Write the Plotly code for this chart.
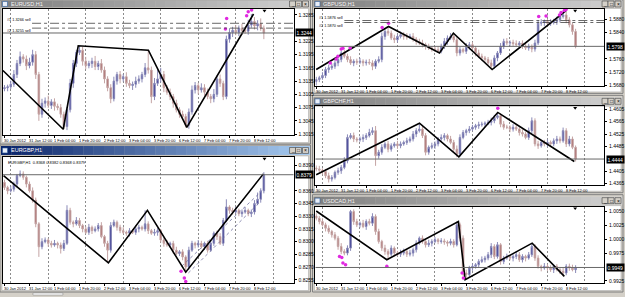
import plotly.graph_objects as go

W, H = 625, 297

# ---------------- data ----------------
time_ticks = [0, 16, 32, 48, 64, 80, 96, 112, 128, 144, 160]
time_labels = ["30 Jan 2012", "31 Jan 12:00", "1 Feb 04:00", "1 Feb 20:00", "2 Feb 12:00",
               "3 Feb 04:00", "3 Feb 20:00", "6 Feb 12:00", "7 Feb 04:00", "7 Feb 20:00", "8 Feb 12:00"]
day_starts = [4, 28, 52, 76, 100, 124, 148, 172]
hours_per_bar = 2

# EURUSD, pips above 1.3000
eurusd_open0 = 118
eurusd_close = [120,122,128,150,175,190,185,170,178,195, 150,60,85,90,80,88,78,75,60,32,
                70,130,175,200,205,180,170,175,180,168, 175,160,140,120,95,135,150,140,145,130,
                125,128,135,140,150,165,160,100,130,140, 150,120,110,100,85,70,60,55,35,65,
                115,125,115,120,110,100,95,105,140,130, 100,230,245,250,245,255,250,248,262,270,
                260,265,255,244]
eurusd_upper = [6,5,8,10,8,12,6,8,10,11, 8,6,10,8,12,6,8,6,8,6, 6,10,8,6,10,8,10,6,8,12,
                6,10,8,6,8,10,6,8,6,10, 8,6,10,8,6,11,40,8,12,20, 15,8,6,8,6,8,6,8,6,8,
                10,8,6,10,8,8,6,12,8,10, 6,8,10,8,12,6,10,8,12,17, 10,8,12,6]
eurusd_lower = [6,8,5,6,8,6,8,10,6,8, 10,15,8,10,6,8,10,6,8,6, 8,6,10,8,6,10,8,6,10,8,
                8,6,10,8,10,6,8,10,6,8, 6,10,8,6,8,6,8,15,8,6, 8,10,6,8,10,6,8,6,5,8,
                6,8,10,6,8,6,10,8,6,8, 8,6,8,10,6,8,10,6,8,6, 8,10,6,14]
eurusd_zz_t = [-1, 37.6, 47.2, 92.1, 116.7, 159.4]
eurusd_zz_p = [159, 26, 215, 205, 30, 287]
eurusd_dot_t = [142.2, 141.4, 155.0, 156.0, 158.2]
eurusd_dot_p = [277, 253, 283, 292, 296]
eurusd_levels = [266, 255]
eurusd_level_text = ["#1 1.3266 sell", "#2 1.3255 sell"]
eurusd_yticks = [1.3015, 1.3045, 1.3075, 1.3105, 1.3135, 1.3165, 1.3195, 1.3225, 1.3285]

# GBPUSD, pips above 1.5600
gbpusd_open0 = 92
gbpusd_close = [98,103,110,128,133,138,148,158,178,168, 158,148,153,150,153,148,150,148,138,153,
                158,228,243,238,223,218,228,233,228,226, 228,220,213,208,203,198,193,190,188,183,
                198,213,223,228,218,178,188,183,198,203, 193,178,168,163,158,148,138,163,178,198,
                213,208,210,206,203,208,198,193,198,190, 208,268,270,273,268,270,273,278,288,293,
                278,263,243,198]
gbpusd_upper = [8,6,10,8,10,8,12,10,8,10, 8,10,6,8,10,6,8,10,8,6, 10,12,10,15,8,10,6,10,8,10,
                8,10,6,8,10,6,8,6,8,10, 8,10,8,10,8,10,8,6,10,8, 8,6,10,8,6,8,10,8,6,10,
                8,10,6,8,10,6,8,10,8,6, 10,8,10,6,8,10,8,10,8,13, 10,8,6,8]
gbpusd_lower = [12,8,6,8,10,6,8,10,8,6, 8,6,10,8,6,10,8,6,12,8, 6,8,10,8,6,10,8,6,10,8,
                6,8,10,6,8,10,6,8,6,5, 6,8,10,6,8,10,8,6,8,10, 8,10,6,8,10,6,10,8,10,6,
                8,6,10,8,6,10,8,6,8,10, 8,6,8,10,6,8,6,10,8,6, 10,8,10,6]
gbpusd_zz_t = [0, 46.3, 78.9, 87.8, 112.6, 159.9]
gbpusd_zz_p = [128, 258, 178, 238, 128, 306]
gbpusd_dot_t = [9.0, 12.8, 13.9, 16.0, 17.1, 21.7, 42.2, 46.3, 142.4, 147.1, 155.7, 156.7, 158.8, 159.9]
gbpusd_dot_p = [148, 160, 168, 190, 192, 193, 255, 268, 288, 290, 293, 300, 306, 309]
gbpusd_levels = [276, 270]
gbpusd_level_text = ["#1 1.5876 sell", "#2 1.5870 sell"]
gbpusd_yticks = [1.5680, 1.5720, 1.5760, 1.5840, 1.5880]

# GBPCHF, pips above 1.4300
gbpchf_open0 = 115
gbpchf_close = [112,108,104,90,79,84,101,106,117,138, 214,220,209,206,209,214,220,230,236,155,
                166,182,193,176,187,193,187,193,198,203, 209,225,236,241,220,166,182,187,193,209,
                214,220,209,198,176,160,214,230,236,241, 247,252,255,257,260,263,268,279,284,257,
                247,247,241,247,241,230,225,214,236,268, 193,187,198,193,198,193,203,209,203,236,
                193,209,182,144]
gbpchf_upper = [8,10,6,8,10,8,6,10,8,12, 10,8,10,6,8,10,8,12,11,15, 8,10,6,10,8,6,10,8,6,10,
                8,10,8,19,10,8,6,10,8,6, 10,8,6,10,8,12,10,8,6,10, 8,6,10,8,6,8,10,8,11,8,
                10,8,6,10,8,6,10,8,10,11, 8,10,6,8,10,6,8,10,8,10, 8,10,8,6]
gbpchf_lower = [8,6,10,8,11,8,6,8,10,6, 8,6,10,8,6,10,8,6,8,33, 10,8,6,10,8,6,10,8,6,8,
                6,8,10,6,8,10,8,6,10,8, 6,10,8,6,10,10,8,6,10,8, 6,8,10,6,8,6,10,8,6,10,
                8,6,10,8,6,10,8,6,8,10, 8,10,6,8,10,6,8,10,8,6, 10,8,6,8]
gbpchf_zz_t = [0, 66.1, 91.3, 116.2, 165.2]
gbpchf_zz_p = [93, 260, 151, 295, 136]
gbpchf_dot_t = [116.2]
gbpchf_dot_p = [309]
gbpchf_yticks = [1.4365, 1.4405, 1.4485, 1.4525, 1.4565, 1.4605]

# USDCAD, pips above 0.9900
usdcad_open0 = 142
usdcad_close = [138,132,126,120,114,108,102,87,78,75, 84,150,132,126,129,123,132,129,141,114,
                96,84,78,73,84,75,73,75,78,73, 75,81,93,102,96,90,93,96,99,96,
                97,95,93,96,90,126,102,39,36,48, 51,54,60,63,66,72,87,69,90,60,
                66,69,66,69,72,63,69,66,72,87, 66,51,48,51,48,45,51,45,42,39,
                51,48,45,49]
usdcad_upper = [5,4,6,4,5,3,5,4,6,4, 5,3,4,5,3,6,4,5,6,4, 5,3,6,4,5,3,4,6,5,4,
                6,4,5,3,5,4,6,4,5,3, 5,4,3,5,4,6,4,5,6,4, 5,3,4,6,4,5,6,4,5,3,
                4,5,3,4,6,5,4,3,5,6, 4,5,3,6,4,5,3,4,5,6, 4,5,6,4]
usdcad_lower = [4,5,3,6,4,5,4,6,5,4, 4,5,6,4,5,3,6,4,5,6, 4,5,6,10,4,6,3,5,4,5,
                4,6,5,3,4,5,4,6,3,5, 4,5,6,4,5,3,6,5,9,4, 5,4,6,3,5,4,6,5,4,6,
                5,3,4,6,5,4,5,6,3,4, 5,4,6,3,5,4,6,3,5,6, 4,5,3,6]
usdcad_zz_t = [0, 45.2, 91.0, 95.3, 138.2, 158.8]
usdcad_zz_p = [151, 63, 132, 27, 93, 33]
usdcad_dot_t = [14.9, 16.4, 17.1, 18.8, 45.2, 93.4, 94.2]
usdcad_dot_p = [69, 67, 57, 54, 51, 39, 30]
usdcad_yticks = [0.9925, 0.9975, 1.0000, 1.0025, 1.0050]

# EURGBP, pips above 0.8200
eurgbp_open0 = 170
eurgbp_close = [164,160,162,168,178,180,176,168,160,149, 121,94,100,102,98,96,98,96,92,98,
                137,123,121,125,119,115,111,117,113,115, 119,106,98,90,119,123,117,113,111,110,
                113,111,115,117,115,121,113,110,111,113, 102,98,96,98,90,86,88,82,70,90,
                98,96,98,94,98,90,98,110,106,98, 125,141,137,135,137,133,135,137,133,135,
                145,150,160,179]
eurgbp_upper = [3,2,4,3,2,4,3,2,3,4, 3,2,4,3,2,3,4,2,3,4, 6,3,2,4,3,2,3,4,2,3,
                3,4,2,3,4,3,2,3,4,2, 3,2,4,3,2,16,3,2,4,3, 2,3,4,2,3,4,2,3,2,4,
                3,2,4,3,2,3,4,2,3,4, 3,9,2,3,4,2,3,4,2,3, 4,8,3,3]
eurgbp_lower = [3,4,2,3,4,2,3,4,2,3, 4,12,3,2,4,3,2,4,6,3, 2,3,4,2,3,4,2,3,4,2,
                3,2,4,15,3,2,4,3,2,3, 4,2,3,4,2,3,4,2,3,4, 3,4,2,3,4,2,3,4,7,3,
                2,4,3,2,4,3,2,3,4,2, 3,2,4,3,2,3,4,2,3,4, 3,2,4,3]
eurgbp_zz_t = [-0.6, 66.5, 91.5, 116.0, 165.7]
eurgbp_zz_p = [178, 75, 137, 64, 180]
eurgbp_dot_t = [113.0, 115.1, 116.0]
eurgbp_dot_p = [65, 57, 53]
eurgbp_chan_t = [[113.4, 162.5], [117.7, 163.5]]
eurgbp_chan_p = [[71, 156], [63, 147]]
eurgbp_yticks = [0.8255, 0.8270, 0.8285, 0.8300, 0.8315, 0.8330, 0.8345, 0.8360, 0.8390]
eurgbp_info = "EURGBP,H1  0.8368 0.8382 0.8368 0.8379"

# ---------------- layout geometry (pixels) ----------------
panels = [
    dict(title="EURUSD,H1", base=1.3000, o0=eurusd_open0, c=eurusd_close, u=eurusd_upper, l=eurusd_lower,
         zt=eurusd_zz_t, zp=eurusd_zz_p, dt=eurusd_dot_t, dp=eurusd_dot_p, yt=eurusd_yticks,
         lv=eurusd_levels, lvt=eurusd_level_text,
         win=(0, 0, 311, 145), tb=(0.5, 7.5), plot=(3, 9, 294, 136), xr=(-0.96, 185), yr=(12.75, 298.5), active=False),
    dict(title="EURGBP,H1", base=0.8200, o0=eurgbp_open0, c=eurgbp_close, u=eurgbp_upper, l=eurgbp_lower,
         zt=eurgbp_zz_t, zp=eurgbp_zz_p, dt=eurgbp_dot_t, dp=eurgbp_dot_p, yt=eurgbp_yticks,
         lv=[], lvt=[], info=eurgbp_info,
         win=(0, 146, 311, 294), tb=(147, 156), plot=(3, 158, 294, 285), xr=(-0.96, 185), yr=(51.1, 200), active=True),
    dict(title="GBPUSD,H1", base=1.5600, o0=gbpusd_open0, c=gbpusd_close, u=gbpusd_upper, l=gbpusd_lower,
         zt=gbpusd_zz_t, zp=gbpusd_zz_p, dt=gbpusd_dot_t, dp=gbpusd_dot_p, yt=gbpusd_yticks,
         lv=gbpusd_levels, lvt=gbpusd_level_text,
         win=(313, 0, 624, 94), tb=(0.5, 7.5), plot=(316, 9, 605, 87), xr=(-0.45, 184.2), yr=(77, 311), active=False),
    dict(title="GBPCHF,H1", base=1.4300, o0=gbpchf_open0, c=gbpchf_close, u=gbpchf_upper, l=gbpchf_lower,
         zt=gbpchf_zz_t, zp=gbpchf_zz_p, dt=gbpchf_dot_t, dp=gbpchf_dot_p, yt=gbpchf_yticks,
         lv=[], lvt=[],
         win=(313, 96, 624, 194), tb=(98, 106), plot=(316, 107, 605, 186), xr=(-0.45, 184.2), yr=(60.7, 315), active=False),
    dict(title="USDCAD,H1", base=0.9900, o0=usdcad_open0, c=usdcad_close, u=usdcad_upper, l=usdcad_lower,
         zt=usdcad_zz_t, zp=usdcad_zz_p, dt=usdcad_dot_t, dp=usdcad_dot_p, yt=usdcad_yticks,
         lv=[], lvt=[],
         win=(313, 196, 624, 294), tb=(198, 206), plot=(316, 208, 605, 285), xr=(-0.45, 184.2), yr=(20.8, 159), active=False),
]


def pxx(x):
    return x / W


def pxy(y):
    return 1 - y / H


fig = go.Figure()
shapes = []
annotations = []
layout_axes = {}

FONT = "Liberation Sans"

# background strip at bottom (tabs)
shapes.append(dict(type="rect", xref="paper", yref="paper", x0=0, x1=1, y0=pxy(297), y1=pxy(294.5),
                   fillcolor="#d4d0c8", line=dict(width=0), layer="below"))
shapes.append(dict(type="rect", xref="paper", yref="paper", x0=pxx(33), x1=pxx(63), y0=pxy(297), y1=pxy(295),
                   fillcolor="#ffffff", line=dict(color="#808080", width=0.5), layer="below"))


def lerp(a, b, t):
    return int(round(a + (b - a) * t))


for i, p in enumerate(panels):
    n = i + 1
    xa = "x" if n == 1 else f"x{n}"
    ya = "y" if n == 1 else f"y{n}"
    base = p["base"]
    sc = 1e-4
    opens, highs, lows, closes = [], [], [], []
    prev = p["o0"]
    for cl, up, dn in zip(p["c"], p["u"], p["l"]):
        opens.append(base + prev * sc)
        closes.append(base + cl * sc)
        highs.append(base + (max(prev, cl) + up) * sc)
        lows.append(base + (min(prev, cl) - dn) * sc)
        prev = cl
    xs = [k * hours_per_bar for k in range(len(closes))]
    current = closes[-1]

    fig.add_trace(go.Candlestick(
        x=xs, open=opens, high=highs, low=lows, close=closes, xaxis=xa, yaxis=ya,
        increasing=dict(line=dict(color="#8a8ab8", width=1), fillcolor="#2c2c8c"),
        decreasing=dict(line=dict(color="#c4a4a4", width=1), fillcolor="#a86868"),
        whiskerwidth=0, showlegend=False, hoverinfo="skip"))

    # channel lines (EURGBP)
    if n == 2:
        for ct, cp in zip(eurgbp_chan_t, eurgbp_chan_p):
            fig.add_trace(go.Scatter(x=ct, y=[base + v * sc for v in cp], xaxis=xa, yaxis=ya, mode="lines",
                                     line=dict(color="#7070a0", width=0.8, dash="dot"), showlegend=False,
                                     hoverinfo="skip"))

    # zigzag
    fig.add_trace(go.Scatter(x=p["zt"], y=[base + v * sc for v in p["zp"]], xaxis=xa, yaxis=ya, mode="lines",
                             line=dict(color="#000000", width=1.6), showlegend=False, hoverinfo="skip"))
    # fractal dots
    fig.add_trace(go.Scatter(x=p["dt"], y=[base + v * sc for v in p["dp"]], xaxis=xa, yaxis=ya, mode="markers",
                             marker=dict(color="#e028e0", size=3.5), showlegend=False, hoverinfo="skip",
                             cliponaxis=False))

    x0p, y0p, x1p, y1p = p["plot"]
    layout_axes["xaxis" if n == 1 else f"xaxis{n}"] = dict(
        domain=[pxx(x0p), pxx(x1p)], range=list(p["xr"]), anchor=ya,
        showgrid=False, zeroline=False, showline=True, linecolor="#000000", linewidth=1, mirror=True,
        tickmode="array", tickvals=time_ticks, ticks="outside", ticklen=2, tickcolor="#000000",
        showticklabels=False, rangeslider=dict(visible=False), fixedrange=True,
        minor=dict(tickmode="array", tickvals=day_starts, showgrid=True, gridcolor="#8c8c8c",
                   griddash="2px,2px", gridwidth=1, ticks=""))
    layout_axes["yaxis" if n == 1 else f"yaxis{n}"] = dict(
        domain=[pxy(y1p), pxy(y0p)], range=[base + p["yr"][0] * sc, base + p["yr"][1] * sc], anchor=xa,
        side="right", showgrid=False, zeroline=False, showline=True, linecolor="#000000", linewidth=1,
        mirror=True, tickmode="array", tickvals=p["yt"], ticktext=[f"{v:.4f}" for v in p["yt"]],
        ticks="outside", ticklen=2, tickcolor="#000000", ticklabelstandoff=1,
        tickfont=dict(size=5, color="#000000", family=FONT),
        fixedrange=True)

    # window chrome
    wx0, wy0, wx1, wy1 = p["win"]
    ty0, ty1 = p["tb"]
    shapes.append(dict(type="rect", xref="paper", yref="paper", x0=pxx(wx0), x1=pxx(wx1), y0=pxy(wy1), y1=pxy(wy0),
                       fillcolor="#d4d0c8", line=dict(color="#808080", width=1), layer="below"))
    shapes.append(dict(type="rect", xref="paper", yref="paper", x0=pxx(wx0 + 2), x1=pxx(wx1 - 2),
                       y0=pxy(wy1 - 1.5), y1=pxy(ty1 + 1),
                       fillcolor="#ffffff", line=dict(color="#a0a0a0", width=0.5), layer="below"))
    if p["active"]:
        c_a, c_b = (10, 36, 106), (166, 202, 240)
    else:
        c_a, c_b = (128, 128, 128), (208, 208, 208)
    nsl = 30
    tw = (wx1 - 1) - (wx0 + 1)
    for s in range(nsl):
        t = s / (nsl - 1)
        col = f"rgb({lerp(c_a[0], c_b[0], t)},{lerp(c_a[1], c_b[1], t)},{lerp(c_a[2], c_b[2], t)})"
        shapes.append(dict(type="rect", xref="paper", yref="paper",
                           x0=pxx(wx0 + 1 + tw * s / nsl), x1=pxx(wx0 + 1 + tw * (s + 1) / nsl + 0.3),
                           y0=pxy(ty1), y1=pxy(ty0), fillcolor=col, line=dict(width=0), layer="below"))
    # icon
    tc = (ty0 + ty1) / 2
    shapes.append(dict(type="rect", xref="paper", yref="paper", x0=pxx(wx0 + 2.5), x1=pxx(wx0 + 7.5),
                       y0=pxy(tc + 2.5), y1=pxy(tc - 2.5), fillcolor="#e8eef8",
                       line=dict(color="#3060a0", width=0.6), layer="below"))
    annotations.append(dict(text=p["title"], x=pxx(wx0 + 9), y=pxy(tc), xref="paper", yref="paper",
                            xanchor="left", yanchor="middle", showarrow=False,
                            font=dict(size=5.5, color="#ffffff" if p["active"] else "#f4f4f4", family=FONT)))
    # buttons
    for bx, glyph in ((wx1 - 21, "_"), (wx1 - 15, "□"), (wx1 - 8, "×")):
        shapes.append(dict(type="rect", xref="paper", yref="paper", x0=pxx(bx), x1=pxx(bx + 6),
                           y0=pxy(tc + 3), y1=pxy(tc - 3), fillcolor="#d4d0c8",
                           line=dict(color="#404040", width=0.6), layer="below"))
        annotations.append(dict(text=glyph, x=pxx(bx + 3), y=pxy(tc), xref="paper", yref="paper",
                                xanchor="center", yanchor="middle", showarrow=False,
                                font=dict(size=5, color="#000000", family=FONT)))

    # x tick labels (left aligned like MT4)
    for t, lab in zip(time_ticks, time_labels):
        annotations.append(dict(text=lab, x=t, xref=xa, y=pxy(y1p + 2), yref="paper", xanchor="left",
                                yanchor="top", showarrow=False, xshift=-1, borderpad=0,
                                font=dict(size=4, color="#000000", family=FONT)))

    # current price line & box
    shapes.append(dict(type="line", xref=f"{xa} domain", yref=ya, x0=0, x1=1, y0=current, y1=current,
                       line=dict(color="#686868", width=1), layer="above"))
    annotations.append(dict(text=f"{current:.4f}", x=pxx(x1p + 1.5), xref="paper", y=current, yref=ya,
                            xanchor="left", yanchor="middle", showarrow=False, bgcolor="#000000",
                            borderpad=0.5, font=dict(size=5, color="#ffffff", family=FONT)))
    # stop levels: first label above its line, second below its line
    for j, (lvl, txt) in enumerate(zip(p["lv"], p["lvt"])):
        yv = base + lvl * sc
        shapes.append(dict(type="line", xref=f"{xa} domain", yref=ya, x0=0.1, x1=1, y0=yv, y1=yv,
                           line=dict(color="#404040", width=0.8, dash="dashdot"), layer="above"))
        annotations.append(dict(text=txt, x=0.01, xref=f"{xa} domain", y=yv, yref=ya, xanchor="left",
                                yanchor="bottom" if j == 0 else "top", showarrow=False, borderpad=0,
                                font=dict(size=3.8, color="#000000", family=FONT)))
    if "info" in p:
        annotations.append(dict(text=p["info"], x=0.01, xref=f"{xa} domain", y=0.99, yref=f"{ya} domain",
                                xanchor="left", yanchor="top", showarrow=False,
                                font=dict(size=4, color="#000000", family=FONT)))
    # chart-shift triangle
    tx = x0p + (x1p - x0p) * 0.9
    shapes.append(dict(type="path", xref="paper", yref="paper",
                       path=f"M {pxx(tx - 2)} {pxy(y0p + 0.8)} L {pxx(tx + 2)} {pxy(y0p + 0.8)} L {pxx(tx)} {pxy(y0p + 3.5)} Z",
                       fillcolor="#000000", line=dict(width=0), layer="above"))

fig.update_layout(
    width=W, height=H, margin=dict(l=0, r=0, t=0, b=0),
    paper_bgcolor="#d4d0c8", plot_bgcolor="#ffffff",
    showlegend=False, shapes=shapes, annotations=annotations,
    font=dict(family=FONT, size=5, color="#000000"),
    **layout_axes)

fig.write_html("out.html")
